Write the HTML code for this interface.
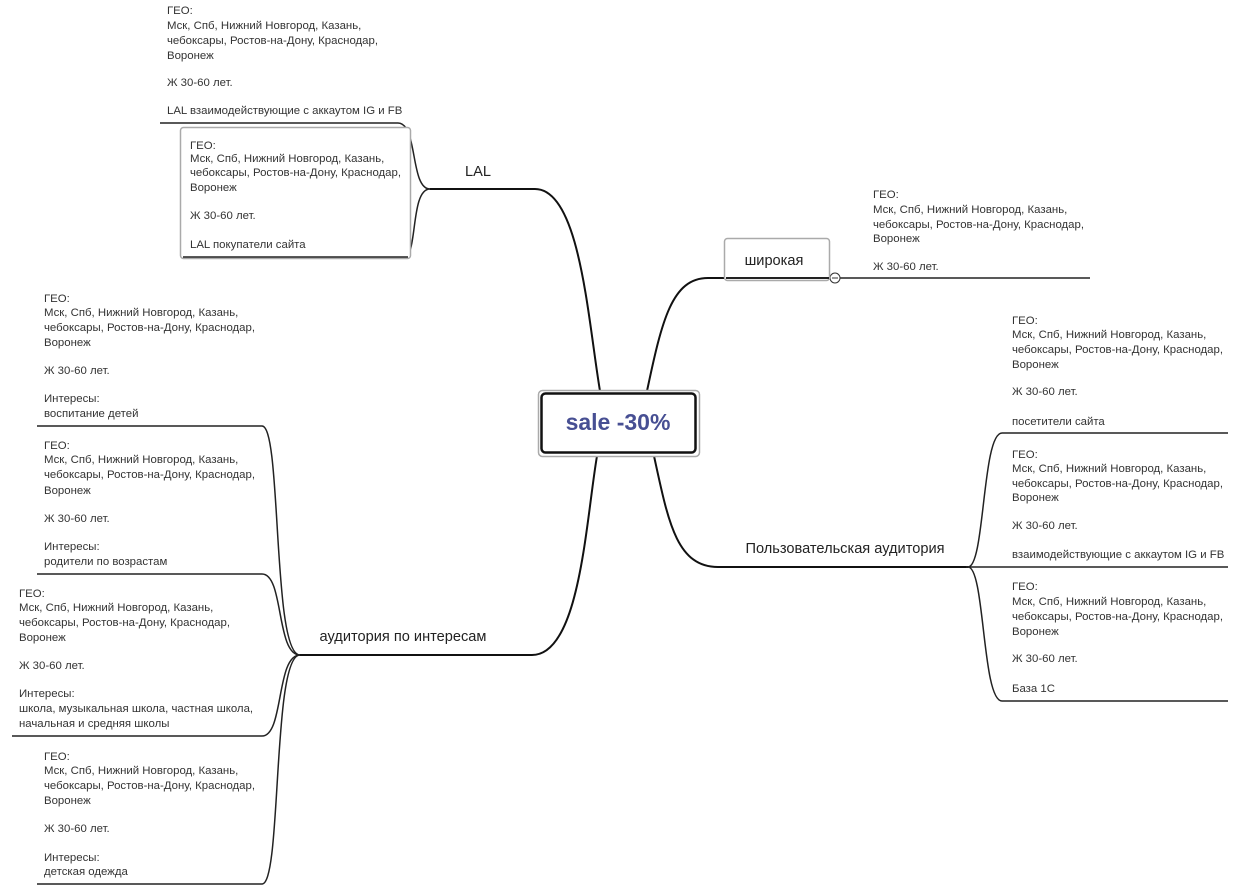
<!DOCTYPE html>
<html><head><meta charset="utf-8"><style>
html,body{margin:0;padding:0;background:#fff;width:1254px;height:887px;overflow:hidden}
svg{display:block}
text{font-family:"Liberation Sans","DejaVu Sans",sans-serif;}
.t{font-size:11.4px;fill:#333}
.l{font-size:14.6px;fill:#222}
.c{fill:none;stroke:#111;stroke-width:2}
.c1{fill:none;stroke:#222;stroke-width:1.5}
</style></head><body>
<svg width="1254" height="887" viewBox="0 0 1254 887" xmlns="http://www.w3.org/2000/svg">
<path class="c" d="M600,391 C588,320 580,189 535,189 L430,189"/>
<path class="c" d="M647,391 C662,320 672,278 708,278 L724,278"/>
<path class="c" d="M597,456 C586,520 580,655 532,655 L300,655"/>
<path class="c" d="M654,456 C668,520 676,567 718,567 L968,567"/>
<path class="c1" d="M430,189 C410,189 418,123 398,123 L160,123"/>
<path class="c1" d="M430,189 C410,189 418,257 404,257 L183,257"/>
<path class="c1" d="M724,278 L830,278"/>
<path class="c1" d="M840,278 L1090,278"/>
<circle cx="835" cy="278" r="5" fill="#fff" stroke="#333" stroke-width="1"/>
<line x1="832" y1="278" x2="838" y2="278" stroke="#333" stroke-width="1"/>
<path class="c1" d="M968,567 C985,567 982,433 1002,433 L1228,433"/>
<path class="c1" d="M966,567 L1228,567"/>
<path class="c1" d="M968,567 C985,567 982,701 1002,701 L1228,701"/>
<path class="c1" d="M300,655 C272,655 282,426 262,426 L37,426"/>
<path class="c1" d="M300,655 C276,655 284,574 262,574 L37,574"/>
<path class="c1" d="M300,655 C276,655 284,736 262,736 L12,736"/>
<path class="c1" d="M300,655 C272,655 282,884 262,884 L37,884"/>

<rect x="180.5" y="127.5" width="230" height="131" rx="3" fill="#fff" stroke="#aaa" stroke-width="1.5"/>
<line x1="183" y1="257" x2="408" y2="257" stroke="#222" stroke-width="1.5"/>
<rect x="724.5" y="238.5" width="105" height="42" rx="3" fill="#fff" stroke="#aaa" stroke-width="1.5"/>
<line x1="726" y1="278" x2="829" y2="278" stroke="#222" stroke-width="2"/>
<rect x="538.5" y="390.5" width="161" height="66" rx="4" fill="#fff" stroke="#aaa" stroke-width="1.5"/>
<rect x="541.5" y="393.5" width="154" height="59" rx="4" fill="#fff" stroke="#111" stroke-width="2.5"/>
<text x="618" y="430" text-anchor="middle" style="font-size:23px;font-weight:bold;fill:#474f93">sale -30%</text>

<text class="l" x="478" y="176" text-anchor="middle">LAL</text>
<text class="l" x="774" y="265" text-anchor="middle">широкая</text>
<text class="l" x="845" y="553" text-anchor="middle">Пользовательская аудитория</text>
<text class="l" x="403" y="641" text-anchor="middle">аудитория по интересам</text>

<g class="t">
<text x="167" y="14">ГЕО:</text>
<text x="167" y="29">Мск, Спб, Нижний Новгород, Казань,</text>
<text x="167" y="44">чебоксары, Ростов-на-Дону, Краснодар,</text>
<text x="167" y="59">Воронеж</text>
<text x="167" y="86">Ж 30-60 лет.</text>
<text x="167" y="114">LAL взаимодействующие с аккаутом IG и FB</text>
<text x="190" y="149">ГЕО:</text>
<text x="190" y="162">Мск, Спб, Нижний Новгород, Казань,</text>
<text x="190" y="176">чебоксары, Ростов-на-Дону, Краснодар,</text>
<text x="190" y="191">Воронеж</text>
<text x="190" y="219">Ж 30-60 лет.</text>
<text x="190" y="248">LAL покупатели сайта</text>
<text x="873" y="198">ГЕО:</text>
<text x="873" y="213">Мск, Спб, Нижний Новгород, Казань,</text>
<text x="873" y="228">чебоксары, Ростов-на-Дону, Краснодар,</text>
<text x="873" y="242">Воронеж</text>
<text x="873" y="270">Ж 30-60 лет.</text>
<text x="1012" y="324">ГЕО:</text>
<text x="1012" y="338">Мск, Спб, Нижний Новгород, Казань,</text>
<text x="1012" y="353">чебоксары, Ростов-на-Дону, Краснодар,</text>
<text x="1012" y="368">Воронеж</text>
<text x="1012" y="395">Ж 30-60 лет.</text>
<text x="1012" y="425">посетители сайта</text>
<text x="1012" y="458">ГЕО:</text>
<text x="1012" y="472">Мск, Спб, Нижний Новгород, Казань,</text>
<text x="1012" y="487">чебоксары, Ростов-на-Дону, Краснодар,</text>
<text x="1012" y="501">Воронеж</text>
<text x="1012" y="529">Ж 30-60 лет.</text>
<text x="1012" y="558">взаимодействующие с аккаутом IG и FB</text>
<text x="1012" y="590">ГЕО:</text>
<text x="1012" y="605">Мск, Спб, Нижний Новгород, Казань,</text>
<text x="1012" y="620">чебоксары, Ростов-на-Дону, Краснодар,</text>
<text x="1012" y="635">Воронеж</text>
<text x="1012" y="662">Ж 30-60 лет.</text>
<text x="1012" y="692">База 1С</text>
<text x="44" y="302">ГЕО:</text>
<text x="44" y="316">Мск, Спб, Нижний Новгород, Казань,</text>
<text x="44" y="331">чебоксары, Ростов-на-Дону, Краснодар,</text>
<text x="44" y="346">Воронеж</text>
<text x="44" y="374">Ж 30-60 лет.</text>
<text x="44" y="402">Интересы:</text>
<text x="44" y="417">воспитание детей</text>
<text x="44" y="449">ГЕО:</text>
<text x="44" y="463">Мск, Спб, Нижний Новгород, Казань,</text>
<text x="44" y="478">чебоксары, Ростов-на-Дону, Краснодар,</text>
<text x="44" y="494">Воронеж</text>
<text x="44" y="522">Ж 30-60 лет.</text>
<text x="44" y="550">Интересы:</text>
<text x="44" y="565">родители по возрастам</text>
<text x="19" y="597">ГЕО:</text>
<text x="19" y="611">Мск, Спб, Нижний Новгород, Казань,</text>
<text x="19" y="626">чебоксары, Ростов-на-Дону, Краснодар,</text>
<text x="19" y="641">Воронеж</text>
<text x="19" y="669">Ж 30-60 лет.</text>
<text x="19" y="697">Интересы:</text>
<text x="19" y="712">школа, музыкальная школа, частная школа,</text>
<text x="19" y="727">начальная и средняя школы</text>
<text x="44" y="760">ГЕО:</text>
<text x="44" y="774">Мск, Спб, Нижний Новгород, Казань,</text>
<text x="44" y="789">чебоксары, Ростов-на-Дону, Краснодар,</text>
<text x="44" y="804">Воронеж</text>
<text x="44" y="832">Ж 30-60 лет.</text>
<text x="44" y="861">Интересы:</text>
<text x="44" y="875">детская одежда</text>
</g>
</svg>
</body></html>
